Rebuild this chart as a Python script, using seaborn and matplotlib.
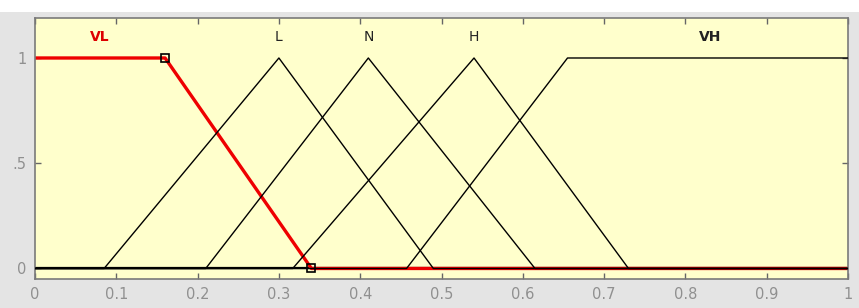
import numpy as np
import pandas as pd
import matplotlib
matplotlib.use("Agg")
import matplotlib.pyplot as plt
import seaborn as sns

# membership function vertices
vl_x = [0.0, 0.16, 0.34, 1.0]
vl_y = [1.0, 1.0, 0.0, 0.0]
l_x = [0.0, 0.085, 0.30, 0.49, 1.0]
l_y = [0.0, 0.0, 1.0, 0.0, 0.0]
n_x = [0.0, 0.21, 0.41, 0.615, 1.0]
n_y = [0.0, 0.0, 1.0, 0.0, 0.0]
h_x = [0.0, 0.317, 0.54, 0.73, 1.0]
h_y = [0.0, 0.0, 1.0, 0.0, 0.0]
vh_x = [0.0, 0.457, 0.655, 1.0]
vh_y = [0.0, 0.0, 1.0, 1.0]

names = ["VL", "L", "N", "H", "VH"]
label_x = [0.08, 0.30, 0.41, 0.54, 0.83]
handle_x = [0.16, 0.34]
handle_y = [1.0, 0.0]

xticks = [0, 0.1, 0.2, 0.3, 0.4, 0.5, 0.6, 0.7, 0.8, 0.9, 1]
xticklabels = ["0", "0.1", "0.2", "0.3", "0.4", "0.5", "0.6", "0.7", "0.8", "0.9", "1"]
yticks = [0, 0.5, 1]
yticklabels = ["0", ".5", "1"]

sns.set_style("white")
plt.rcParams["font.family"] = ["DejaVu Sans"]

fig = plt.figure(figsize=(8.59, 3.08), dpi=100, facecolor="#e4e4e4")
# white strip across the top of the window
fig.patches.append(plt.Rectangle((0, 1 - 12 / 308), 1, 12 / 308, transform=fig.transFigure,
                                 facecolor="white", edgecolor="none", zorder=-1))
ax = fig.add_axes([35 / 859, 29 / 308, 813 / 859, 261 / 308])
ax.set_facecolor("#ffffcc")

black_sets = [(l_x, l_y), (n_x, n_y), (h_x, h_y), (vh_x, vh_y)]
# thick zero line under everything
ax.axhline(0, color="black", linewidth=1.6, zorder=1)
df_vl = pd.DataFrame({"x": vl_x, "y": vl_y})
sns.lineplot(data=df_vl, x="x", y="y", ax=ax, color="#ee0000", linewidth=2.4,
             sort=False, estimator=None, zorder=2)
for k, (xs, ys) in enumerate(black_sets):
    d = pd.DataFrame({"x": xs, "y": ys})
    sns.lineplot(data=d, x="x", y="y", ax=ax, color="black", linewidth=1.0,
                 sort=False, estimator=None, zorder=3)
ax.plot(handle_x, handle_y, linestyle="none", marker="s", markersize=6,
        markerfacecolor="none", markeredgecolor="black", markeredgewidth=1.2, zorder=4)

for k, nm in enumerate(names):
    if nm == "VL":
        ax.text(label_x[k], 1.1, nm, color="#dd0000", fontsize=10, fontweight="bold",
                ha="center", va="center")
    elif nm == "VH":
        ax.text(label_x[k], 1.1, nm, color="#222222", fontsize=10, fontweight="bold",
                ha="center", va="center")
    else:
        ax.text(label_x[k], 1.1, nm, color="#222222", fontsize=10,
                ha="center", va="center")

ax.set_xlim(0, 1)
ax.set_ylim(-0.05, 1.19)
ax.set_xticks(xticks)
ax.set_xticklabels(xticklabels)
ax.set_yticks(yticks)
ax.set_yticklabels(yticklabels)
ax.tick_params(direction="in", length=4, width=1, color="#666666",
               labelcolor="#909090", labelsize=10.5, top=True, right=True,
               bottom=True, left=True, pad=6)
ax.set_xlabel("")
ax.set_ylabel("")
for sp in ax.spines.values():
    sp.set_color("#7a7a7a")
    sp.set_linewidth(1.2)

fig.savefig("out.png", dpi=100, facecolor=fig.get_facecolor())
